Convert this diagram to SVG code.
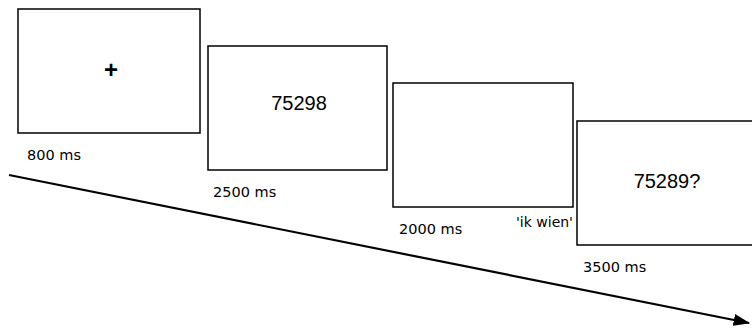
<svg xmlns="http://www.w3.org/2000/svg" width="752" height="329" viewBox="0 0 752 329">
<style>
.box{fill:#fff;stroke:#000;stroke-width:1.5}
.lbl{font-family:"DejaVu Sans",Verdana,sans-serif;font-size:14.5px;fill:#000}
.stim{font-family:"Liberation Sans",Arial,sans-serif;font-size:20px;fill:#000;text-anchor:middle}
</style>
<defs>
<marker id="ah" markerWidth="7.5" markerHeight="5.5" refX="7" refY="2.75" orient="auto" markerUnits="strokeWidth">
<path d="M0,0 L7.5,2.75 L0,5.5 Z" fill="#000"/>
</marker>
</defs>
<g id="connectors">
<line x1="9" y1="175" x2="749" y2="323" stroke="#000" stroke-width="2.2" marker-end="url(#ah)"/>
</g>
<g id="frame1">
<rect class="box" x="18" y="9" width="182" height="124"/>
<text class="stim" x="111" y="77.5" style="font-size:24px;font-weight:bold">+</text>
<text class="lbl" x="27" y="160">800 ms</text>
</g>
<g id="frame2">
<rect class="box" x="208" y="46" width="179" height="124"/>
<text class="stim" x="299" y="110">75298</text>
<text class="lbl" x="213" y="197">2500 ms</text>
</g>
<g id="frame3">
<rect class="box" x="393" y="83" width="180" height="124"/>
<text class="lbl" x="399" y="234">2000 ms</text>
<text class="lbl" x="516" y="227" style="font-size:14px">'ik wien'</text>
</g>
<g id="frame4">
<rect class="box" x="577" y="121" width="190" height="124"/>
<text class="stim" x="667" y="188">75289?</text>
<text class="lbl" x="583" y="272">3500 ms</text>
</g>
</svg>
